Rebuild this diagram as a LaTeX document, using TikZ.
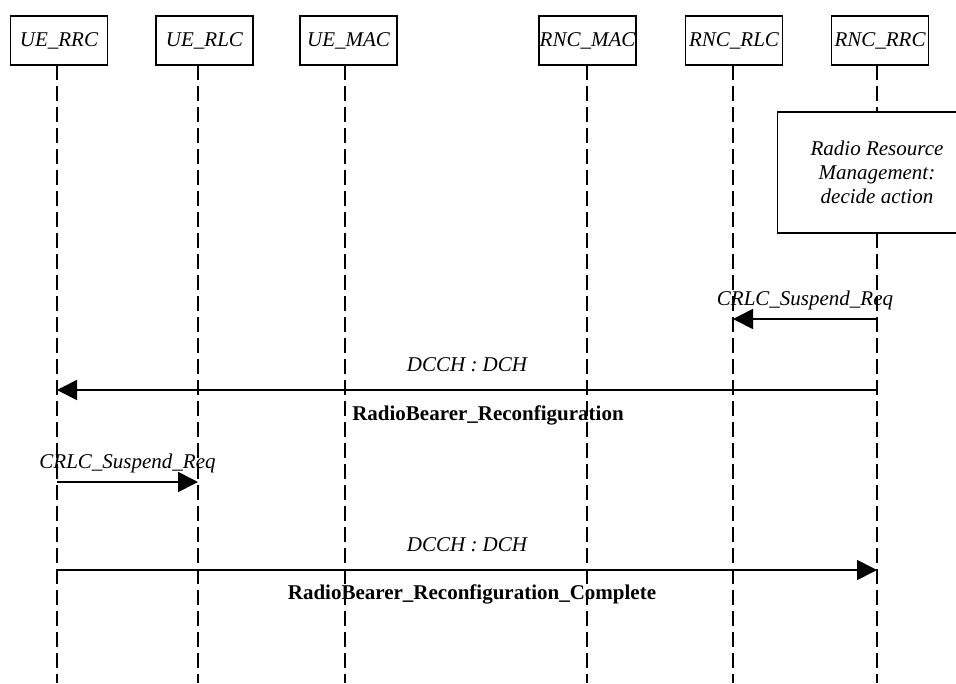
\documentclass[tikz,border=0pt]{standalone}
\usepackage{fontspec}
\setmainfont{Liberation Serif}
\usetikzlibrary{arrows.meta,positioning}

\begin{document}
\begin{tikzpicture}[x=1pt,y=-1pt,
        entity/.style={draw, line width=1.3pt, minimum width=97pt, minimum height=49pt, inner sep=0pt, font=\fontsize{21}{24}\selectfont\itshape},
        life/.style={line width=1.4pt, dash pattern=on 15pt off 6pt},
        msg/.style={line width=1.7pt, -{Triangle[length=20pt,width=20pt]}},
        lbl/.style={midway, anchor=base, font=\fontsize{21}{24}\selectfont\itshape},
        blbl/.style={midway, anchor=base, font=\fontsize{21}{24}\selectfont\bfseries}]
        \useasboundingbox (0,0) rectangle (956,683);
        \clip (0,0) rectangle (956,683);

        % entities
        \node[entity] (uerrc) at (59,40.5) {UE\_RRC};
        \node[entity] (uerlc) at (204.5,40.5) {UE\_RLC};
        \node[entity] (uemac) at (348.5,40.5) {UE\_MAC};
        \node[entity] (rncmac) at (587.5,40.5) {RNC\_MAC};
        \node[entity] (rncrlc) at (734,40.5) {RNC\_RLC};
        \node[entity] (rncrrc) at (880,40.5) {RNC\_RRC};

        % lifelines
        \coordinate (uerrcL) at (57,65);
        \coordinate (uerlcL) at (198,65);
        \coordinate (uemacL) at (345,65);
        \coordinate (rncmacL) at (587,65);
        \coordinate (rncrlcL) at (733,65);
        \coordinate (rncrrcL) at (877,65);
        \coordinate (bottom) at (0,683);
        \foreach \l in {uerrcL,uerlcL,uemacL,rncmacL,rncrlcL,rncrrcL}
            \draw[life] (\l) -- (\l |- bottom);

        \node[draw, fill=white, line width=1.3pt, minimum width=199pt, minimum height=121pt, align=center,
              font=\fontsize{21}{24}\selectfont\itshape] (rrm) at (877,172.5)
              {Radio Resource\\Management:\\decide action};

        % messages
        \coordinate (m1) at (0,319);
        \coordinate (m2) at (0,390);
        \coordinate (m3) at (0,482);
        \coordinate (m4) at (0,570);

        \draw[msg] (rncrrcL |- m1) -- node[lbl, yshift=14pt] {CRLC\_Suspend\_Req} (rncrlcL |- m1);
        \draw[msg] (rncrrcL |- m2) -- node[lbl, yshift=19pt] {DCCH : DCH}
              node[blbl, yshift=-30pt, xshift=21pt] {RadioBearer\_Reconfiguration} (uerrcL |- m2);
        \draw[msg] (uerrcL |- m3) -- node[lbl, yshift=14pt] {CRLC\_Suspend\_Req} (uerlcL |- m3);
        \draw[msg] (uerrcL |- m4) -- node[lbl, yshift=19pt] {DCCH : DCH}
              node[blbl, yshift=-29pt, xshift=5pt] {RadioBearer\_Reconfiguration\_Complete} (rncrrcL |- m4);
\end{tikzpicture}
\end{document}
